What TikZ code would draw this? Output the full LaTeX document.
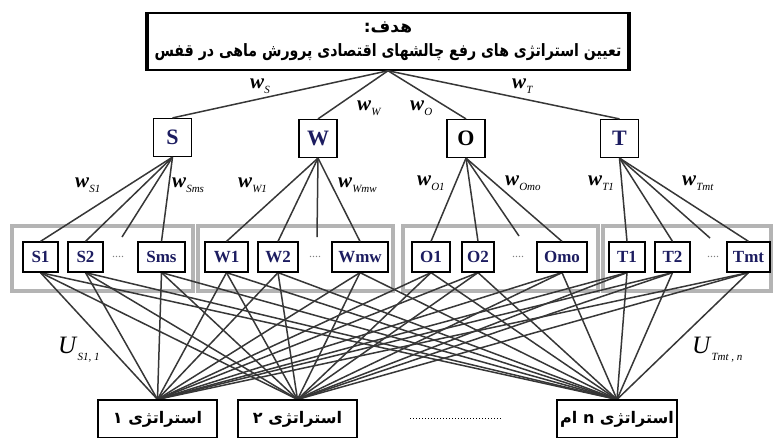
\documentclass[tikz,border=0pt]{standalone}
\usepackage{fontspec}
\setmainfont{Liberation Serif}
\newfontfamily\farsi[Script=Arabic]{DejaVu Sans}
\TeXXeTstate=1
\usetikzlibrary{backgrounds,positioning}
\definecolor{navy}{RGB}{28,28,96}
\definecolor{linkgray}{RGB}{55,55,55}
\definecolor{grpgray}{RGB}{180,180,180}
\newcommand{\wsub}[1]{\textbf{\textit{w}}\raisebox{-5pt}{\fontsize{11}{11}\selectfont\textit{#1}}}
\newcommand{\usub}[1]{\textit{U}\raisebox{-7pt}{\fontsize{11}{11}\selectfont\textit{#1}}}
\tikzset{x=1pt,y=-1pt}

\begin{document}
\begin{tikzpicture}[
    box/.style={draw,line width=1.2pt,fill=white,inner sep=0pt,text=navy},
    crit/.style={box,minimum size=38pt,font=\fontsize{22}{22}\selectfont\bfseries},
    sub/.style={box,minimum height=30pt,font=\fontsize{17}{17}\selectfont\bfseries},
    strat/.style={draw,line width=1.2pt,fill=white,minimum width=119pt,minimum height=38pt,inner sep=0pt,font=\fontsize{16}{16}\selectfont\farsi\bfseries},
    link/.style={draw=linkgray,line width=1.5pt},
    grp/.style={draw=grpgray,line width=4pt,fill=white},
    dots/.style={text=gray,font=\fontsize{12}{12}\selectfont},
    wlab/.style={anchor=base west,inner sep=0pt,font=\fontsize{21}{21}\selectfont},
    ulab/.style={anchor=base west,inner sep=0pt,font=\fontsize{25}{25}\selectfont}]
\useasboundingbox (0,0) rectangle (773,437);
\node[draw,line width=1.5pt,minimum width=480pt,minimum height=57pt,inner sep=0pt,align=center,
      font=\fontsize{17}{24}\selectfont\farsi\bfseries] (goal) at (388,41.5)
      {\beginR هدف:\endR\\\scalebox{0.83}[1]{\beginR تعیین استراتژی های رفع چالشهای اقتصادی پرورش ماهی در قفس\endR}};
\draw[line width=4pt] (goal.north west) -- (goal.south west) (goal.north east) -- (goal.south east);

\node[crit] (S) at (172.5,137.5) {S};
\node[crit] (W) at (318,138.5) {W};
\node[crit,text=black] (O) at (466,138.5) {O};
\node[crit] (T) at (619.5,138.5) {T};

\begin{scope}[on background layer]
  \draw[grp] (12,226) rectangle (193,291);
  \draw[grp] (198,226) rectangle (393,291);
  \draw[grp] (403,226) rectangle (598,291);
  \draw[grp] (603,226) rectangle (771,291);
\end{scope}

\node[sub,minimum width=35pt] (S1) at (40.5,257) {S1};
\node[sub,minimum width=35pt] (S2) at (85.5,257) {S2};
\node[dots] (Sdots) at (118,257) {....};
\node[sub,minimum width=47pt] (Sms) at (161.5,257) {Sms};
\node[sub,minimum width=43pt] (W1) at (226.5,257) {W1};
\node[sub,minimum width=40pt] (W2) at (278,257) {W2};
\node[dots] (Wdots) at (315,257) {....};
\node[sub,minimum width=56pt] (Wmw) at (360,257) {Wmw};
\node[sub,minimum width=38pt] (O1) at (431,257) {O1};
\node[sub,minimum width=32pt] (O2) at (478,257) {O2};
\node[dots] (Odots) at (518,257) {....};
\node[sub,minimum width=50pt] (Omo) at (562,257) {Omo};
\node[sub,minimum width=36pt] (T1) at (627,257) {T1};
\node[sub,minimum width=35pt] (T2) at (672.5,257) {T2};
\node[dots] (Tdots) at (713,257) {....};
\node[sub,minimum width=43pt] (Tmt) at (748.5,257) {Tmt};
\coordinate (Sd) at (122,237);
\coordinate (Wd) at (317,237);
\coordinate (Od) at (519,236);
\coordinate (Td) at (710,238);

\node[strat] (st1) at (157.5,419) {\beginR استراتژی ۱\endR};
\node[strat] (st2) at (297.5,419) {\beginR استراتژی ۲\endR};
\node[strat,minimum width=120pt] (stn) at (617,419) {\beginR استراتژی n ام\endR};
\draw[dotted,line width=1pt] (410,418) -- (502,418);

\foreach \c in {S,W,O,T}
  \draw[link] (goal.south) -- (\c.north);
\foreach \p/\c in {S/S1.north,S/S2.north,S/Sd,S/Sms.north,W/W1.north,W/W2.north,W/Wd,W/Wmw.north,
                   O/O1.north,O/O2.north,O/Od,O/Omo.north,T/T1.north,T/T2.north,T/Td,T/Tmt.north}
  \draw[link] (\p.south) -- (\c);
\begin{scope}[on background layer]
  \foreach \a in {S1,S2,Sms,W1,W2,Wmw,O1,O2,Omo,T1,T2,Tmt}
    \foreach \b in {st1,st2,stn}
      \draw[link] (\a.south) -- (\b.north);
\end{scope}

\node[wlab] (wS) at (250,88) {\wsub{S}};
\node[wlab] (wW) at (357,110) {\wsub{W}};
\node[wlab] (wO) at (410,110) {\wsub{O}};
\node[wlab] (wT) at (512,88) {\wsub{T}};
\node[wlab] (wS1) at (75,187) {\wsub{S1}};
\node[wlab] (wSms) at (172,187) {\wsub{Sms}};
\node[wlab] (wW1) at (238,187) {\wsub{W1}};
\node[wlab] (wWmw) at (338,187) {\wsub{Wmw}};
\node[wlab] (wO1) at (417,185) {\wsub{O1}};
\node[wlab] (wOmo) at (505,185) {\wsub{Omo}};
\node[wlab] (wT1) at (588,185) {\wsub{T1}};
\node[wlab] (wTmt) at (682,185) {\wsub{Tmt}};
\node[ulab] (US) at (58,353) {\usub{S1, 1}};
\node[ulab] (UT) at (692,353) {\usub{Tmt , n}};
\end{tikzpicture}
\end{document}
